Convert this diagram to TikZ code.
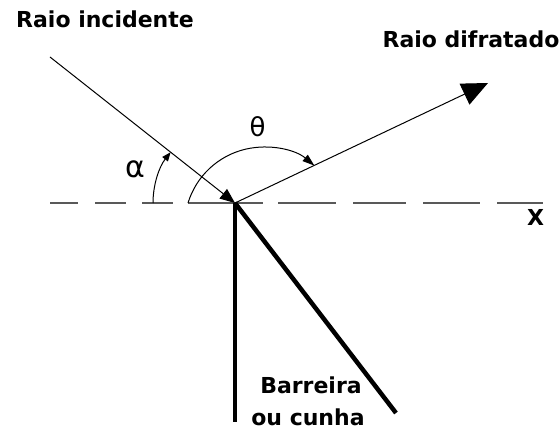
\documentclass[tikz,border=0pt]{standalone}
\usepackage{fontspec}
\setmainfont{DejaVu Sans}
\usetikzlibrary{arrows.meta,calc}

\begin{document}
\begin{tikzpicture}[x=1pt,y=1pt,>={Triangle[length=15pt,width=12pt]},
    ray/.style={line width=1pt},
    wall/.style={line width=4.5pt},
    axis/.style={black!65,line width=1.8pt,
      dash pattern=on 28pt off 17pt on 31pt off 16pt on 31pt off 15pt
        on 75pt off 15pt on 58pt off 17pt on 53pt off 17pt on 57pt off 17pt on 46pt},
    tag/.style={font=\fontsize{22}{26}\selectfont\bfseries,inner sep=0pt,anchor=base}]
  \useasboundingbox (0,0) rectangle (560,432);
  \pgfmathsetmacro{\incangle}{atan(146/185)}

  \coordinate (O) at (235,229);
  \coordinate (src) at (50,375);
  \coordinate (tip) at (488,349);
  \coordinate (xl) at (50,229);
  \coordinate (xr) at (543,229);
  \coordinate (wallv) at (235,10);
  \coordinate (walld) at (396,19);

  % eixo x
  \draw[axis] (xl)--(xr);
  \node[font=\fontsize{22}{26}\selectfont\bfseries,inner sep=0pt] (xlab) at (535.5,214.5) {X};

  % barreira ou cunha
  \draw[wall] (O)--(wallv);
  \draw[wall] (O)--(walld);

  % raios
  \draw[ray,->] (src)--(O);
  \draw[ray,-{Triangle[length=26pt,width=23pt]}] (O)--(tip);

  % angulos
  \draw[ray,-{Triangle[length=9pt,width=7pt]}] ($(O)+(-82,0)$)
    arc[start angle=180,end angle=180-\incangle,radius=82];
  \draw[ray,-{Triangle[length=12pt,width=8pt]}] (188,229)
    arc[start angle=163,end angle=50,radius=79];
  \node[font=\fontsize{30}{30}\selectfont,inner sep=0pt] (alpha) at (135.5,262.5) {α};
  \node[font=\fontsize{26}{26}\selectfont,inner sep=0pt] (theta) at (257.5,305) {θ};

  \node[tag] (inc) at (105,404) {Raio incidente};
  \node[tag] (dif) at (471,384) {Raio difratado};
  \node[tag] (barr) at (311,39) {Barreira};
  \node[tag] (cunha) at (308,7) {ou cunha};
\end{tikzpicture}
\end{document}
